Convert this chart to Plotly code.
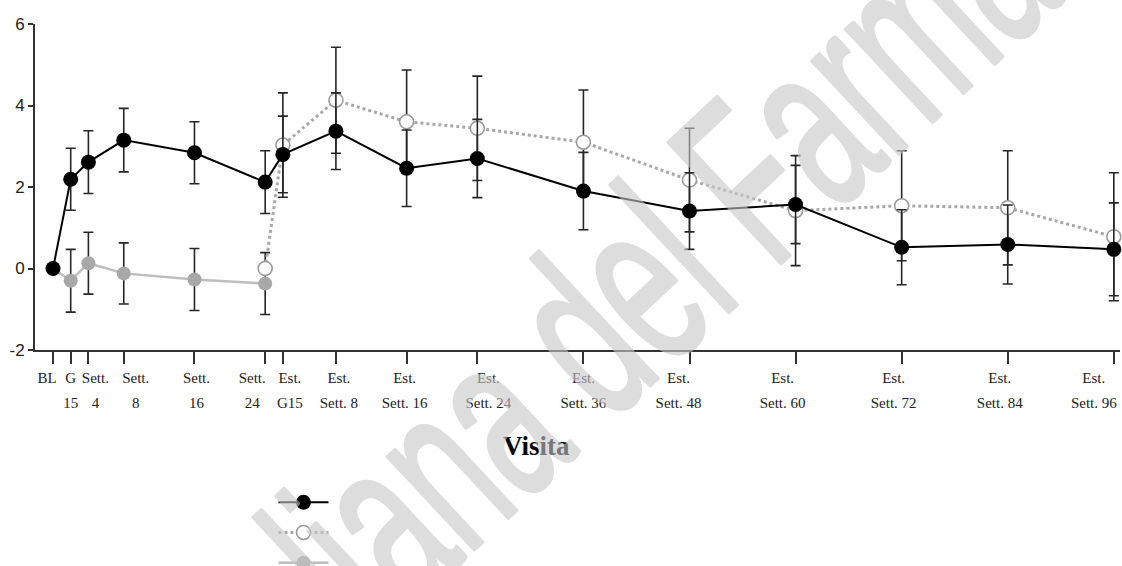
import plotly.graph_objects as go

# ---- data ----
weeks = [0, 2, 4, 8, 16, 24, 26, 32, 40, 48, 60, 72, 84, 96, 108, 120]
tick_row1 = ["BL", "G", "Sett.", "Sett.", "Sett.", "Sett.", "Est.", "Est.", "Est.",
             "Est.", "Est.", "Est.", "Est.", "Est.", "Est.", "Est."]
tick_row2 = ["", "15", "4", "8", "16", "24", "G15", "Sett. 8", "Sett. 16", "Sett. 24",
             "Sett. 36", "Sett. 48", "Sett. 60", "Sett. 72", "Sett. 84", "Sett. 96"]

black_x = weeks
black_y = [0, 2.19, 2.61, 3.15, 2.84, 2.12, 2.80, 3.37, 2.46, 2.70, 1.90, 1.41, 1.57, 0.52, 0.59, 0.47]
black_err = [None, 0.76, 0.77, 0.78, 0.76, 0.77, 0.94, 0.94, 0.94, 0.96, 0.95, 0.94, 0.96, 0.92, 0.97, 1.14]

open_x = [24, 26, 32, 40, 48, 60, 72, 84, 96, 108, 120]
open_y = [0, 3.03, 4.13, 3.60, 3.44, 3.10, 2.17, 1.42, 1.54, 1.49, 0.78]
open_err = [None, 1.28, 1.30, 1.27, 1.28, 1.28, 1.27, 1.35, 1.35, 1.40, 1.57]

gray_x = [0, 2, 4, 8, 16, 24]
gray_y = [0, -0.30, 0.13, -0.12, -0.27, -0.37]
gray_err = [None, 0.77, 0.76, 0.75, 0.76, 0.76]

y_ticks = [-2, 0, 2, 4, 6]
y_ticktext = ["-2", "0", "2", "4", "6"]

# ---- layout details ----
XR = [-2.04, 120.7]
PX_PER_WEEK = 8.841
# horizontal nudges (px) of the tick labels relative to their ticks, as in the original
label_nudge_px = [-6, 0, 7, 12, 2, -13, 7, 3, -2, 11, 0, -11, -13, -8, -8, -20]
label_pos = [w + n / PX_PER_WEEK for w, n in zip(weeks, label_nudge_px)]

ERR = dict(type="data", visible=True, color="#262626", thickness=1.6, width=5)
SERIF = "Liberation Serif"

fig = go.Figure()
fig.add_trace(go.Scatter(
    x=gray_x, y=gray_y, mode="lines+markers", name=" ",
    line=dict(color="#bdbdbd", width=2.5),
    marker=dict(color="#a8a8a8", size=14),
    error_y=dict(array=gray_err, **ERR), cliponaxis=False))
fig.add_trace(go.Scatter(
    x=open_x, y=open_y, mode="lines+markers", name=" ",
    line=dict(color="#a8a8a8", width=3, dash="dot"),
    marker=dict(color="white", size=14, line=dict(color="#9a9a9a", width=1.6)),
    error_y=dict(array=open_err, **ERR), cliponaxis=False))
fig.add_trace(go.Scatter(
    x=black_x, y=black_y, mode="lines+markers", name=" ",
    line=dict(color="black", width=2),
    marker=dict(color="black", size=15),
    error_y=dict(array=black_err, **ERR), cliponaxis=False))
# helper traces so the two label-row axes are drawn
for ax in ("x2", "x3"):
    fig.add_trace(go.Scatter(x=weeks, y=[None] * len(weeks), xaxis=ax,
                             showlegend=False, hoverinfo="skip"))

label_axis = dict(range=XR, overlaying="x", anchor="y", side="bottom",
                  showgrid=False, zeroline=False, showline=False, ticks="",
                  tickmode="array", tickvals=label_pos, tickangle=0,
                  ticklabeloverflow="allow",
                  tickfont=dict(family=SERIF, size=15, color="#222"))

fig.update_layout(
    width=1122, height=566,
    margin=dict(l=35, r=2, t=24, b=216, autoexpand=False),
    paper_bgcolor="white", plot_bgcolor="white",
    showlegend=True,
    legend=dict(x=0.2198, y=-0.405, xanchor="left", yanchor="top",
                traceorder="reversed", itemwidth=50,
                font=dict(size=21, family=SERIF),
                bgcolor="rgba(0,0,0,0)"),
    xaxis=dict(range=XR, showgrid=False, zeroline=False,
               showline=True, linecolor="#333", linewidth=2,
               ticks="outside", ticklen=12, tickwidth=2, tickcolor="#333",
               tickmode="array", tickvals=weeks, showticklabels=False),
    xaxis2=dict(label_axis, ticktext=tick_row1, ticklabelstandoff=17),
    xaxis3=dict(label_axis, ticktext=tick_row2, ticklabelstandoff=42),
    yaxis=dict(range=[-2, 6], showgrid=False, zeroline=False,
               showline=True, linecolor="#333", linewidth=2,
               ticks="outside", ticklen=5, tickwidth=2, tickcolor="#333",
               tickmode="array", tickvals=y_ticks, ticktext=y_ticktext,
               tickfont=dict(family="Liberation Sans", size=17, color="#222")),
    annotations=[
        dict(text="<b>Visita</b>", xref="paper", yref="paper",
             x=0.4618, y=-0.2945, xanchor="center", yanchor="middle",
             showarrow=False, font=dict(family=SERIF, size=27, color="black")),
        dict(text="Agenzia Italiana del Farmaco", xref="paper", yref="paper",
             x=0.3900, y=-0.310, xanchor="center", yanchor="middle",
             showarrow=False, textangle=-43,
             font=dict(family="Liberation Sans", size=240,
                       color="rgb(200,200,200)")),
    ],
)

post = """
document.body.style.margin='0';
document.querySelectorAll('.annotation-text').forEach(function(e){
  if (e.textContent.indexOf('Farmaco') >= 0) {
    e.style.transformBox = 'fill-box';
    e.style.transformOrigin = 'center';
    e.style.transform = 'scaleX(0.58)';
    e.style.stroke = 'rgb(200,200,200)';
    e.style.strokeWidth = '4px';
    e.style.strokeLinejoin = 'round';
    e.style.opacity = '0.6';
  }
});
"""
fig.write_html("out.html", post_script=post, config={"displayModeBar": False})
